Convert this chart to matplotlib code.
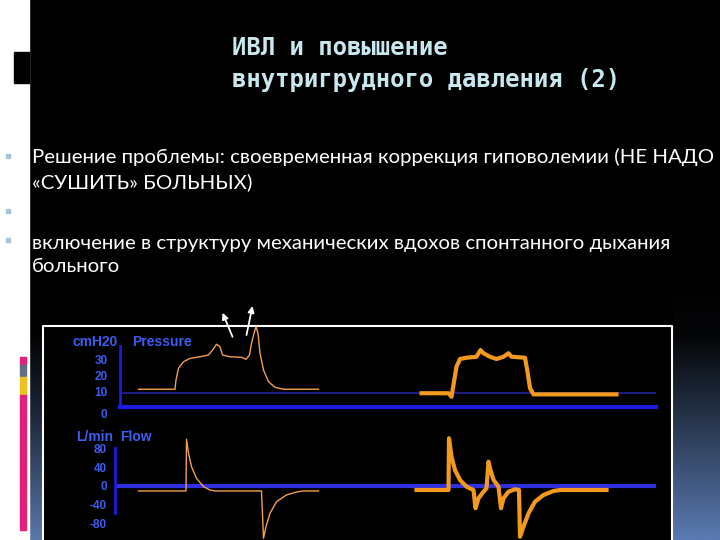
import matplotlib
matplotlib.use('Agg')
import matplotlib.pyplot as plt
import numpy as np
from matplotlib.patches import Rectangle
from matplotlib.transforms import ScaledTranslation

# slide texts
title_lines = ['ИВЛ и повышение', 'внутригрудного давления (2)']
body_lines = ['Решение проблемы: своевременная коррекция гиповолемии (НЕ НАДО',
              '«СУШИТЬ» БОЛЬНЫХ)',
              'включение в структуру механических вдохов спонтанного дыхания',
              'больного']

# pressure waveform, time in s, pressure in cmH2O
p_ticks = [0, 10, 20, 30]
peep_level = 8.8
p1_t = [0.47, 1.20, 1.22, 1.27, 1.37, 1.50, 1.70, 1.87, 1.95, 2.03, 2.10, 2.15,
        2.30, 2.53, 2.62, 2.69, 2.73, 2.78, 2.82, 2.86, 2.90, 2.97, 3.07, 3.20,
        3.37, 4.07]
p1_v = [11.1, 11.1, 16.9, 24.2, 28.3, 30.4, 31.4, 32.5, 35.6, 39.2, 37.7, 32.5,
        31.4, 31.1, 29.8, 32.5, 39.8, 46.1, 50.2, 46.1, 33.6, 23.1, 15.8, 12.3,
        11.1, 11.1]
p2_t = [6.13, 6.67, 6.73, 6.78, 6.83, 6.90, 7.03, 7.23, 7.31, 7.37, 7.50, 7.63,
        7.77, 7.87, 7.93, 8.20, 8.25, 8.30, 8.37, 10.03]
p2_v = [8.6, 8.6, 6.4, 15.8, 25.2, 30.0, 30.8, 31.4, 35.6, 33.6, 31.4, 30.0,
        31.4, 33.6, 31.4, 30.8, 22.1, 11.8, 7.9, 7.9]

# flow waveform, L/min
f_ticks = [80, 40, 0, -40, -80]
f1_t = [0.47, 1.42, 1.43, 1.47, 1.53, 1.63, 1.77, 1.90, 2.00, 2.93, 2.97, 3.02,
        3.10, 3.23, 3.43, 3.63, 3.77, 4.07]
f1_v = [-10.6, -10.6, 99.4, 69.6, 41.1, 16.4, -1.5, -8.5, -10.6, -10.6, -111.3,
        -86.6, -58.1, -33.4, -19.1, -12.8, -10.6, -10.6]
f2_t = [6.03, 6.67, 6.68, 6.73, 6.80, 6.90, 7.03, 7.17, 7.21, 7.27, 7.37, 7.43,
        7.47, 7.50, 7.57, 7.67, 7.72, 7.77, 7.87, 8.00, 8.08, 8.10, 8.17, 8.27,
        8.40, 8.57, 8.77, 8.90, 9.83]
f2_v = [-8.5, -8.5, 101.5, 62.3, 34.0, 12.8, -1.5, -8.5, -47.4, -26.2, -12.1,
        -4.9, 51.7, 37.7, 12.8, -1.5, -47.4, -26.2, -12.1, -7.0, -8.5, -107.9,
        -86.6, -58.1, -33.4, -19.1, -10.6, -8.5, -8.5]

# arrows on pressure chart (tail, tip)
arrows = [((2.35, 43.9), (2.15, 58.9)), ((2.63, 45.0), (2.75, 63.1))]

W, H = 720, 540
fig = plt.figure(figsize=(7.2, 5.4), dpi=100, facecolor='black')

# background / decoration layer in pixel units
bg = fig.add_axes([0, 0, 1, 1])
bg.set_xlim(0, W)
bg.set_ylim(H, 0)
bg.axis('off')
bg.add_patch(Rectangle((0, 0), 29, H, color='white'))
bg.add_patch(Rectangle((14, 52), 15, 31, color='black'))
bg.add_patch(Rectangle((20, 357), 6, 8, color='#e0207a'))
bg.add_patch(Rectangle((20, 365), 6, 11, color='#607080'))
bg.add_patch(Rectangle((20, 377), 6, 18, color='#f0c020'))
bg.add_patch(Rectangle((20, 395), 6, 135, color='#e0207a'))

grad = np.linspace(0, 1, 256).reshape(-1, 1)
cmap_r = matplotlib.colors.LinearSegmentedColormap.from_list(
    'r', [(0, '#000000'), (0.25, '#050608'), (0.55, '#26344a'), (1, '#5a7ab2')])
bg.imshow(grad, extent=(673, 720, 540, 270), cmap=cmap_r, aspect='auto', origin='upper')
cmap_l = matplotlib.colors.LinearSegmentedColormap.from_list(
    'l', [(0, '#000000'), (0.4, '#1c2638'), (1, '#5a78aa')])
bg.imshow(grad, extent=(29, 42, 540, 330), cmap=cmap_l, aspect='auto', origin='upper')

# chart panel frame
bg.plot([43, 43, 672, 672], [540, 326, 326, 540], color='white', lw=1.5)

# title
for i, line in enumerate(title_lines):
    bg.text(232, 48 + 32 * i, line, color='#c8e8f0', fontsize=17.2,
            family='DejaVu Sans Mono', weight='bold', ha='left', va='center')

# bullets
for y in [156, 211, 240]:
    bg.add_patch(Rectangle((6, y - 2), 4, 4, color='#a8c4dc'))

# body text
for y, line in zip([157, 182, 243, 267], body_lines):
    bg.text(32, y, line, color='white', fontsize=14.7, family='Lato',
            ha='left', va='center')

blue = '#1c1ce0'
lab_blue = '#3c5cf0'
orange = '#f39a1e'

# pressure axes: x px 120..656, y px 320..420 (0 at 407, 1.6 px per cmH2O)
axp = fig.add_axes([120 / W, 1 - 420 / H, 536 / W, 100 / H])
axp.set_facecolor('none')
axp.set_xlim(0.1, 10.82)
axp.set_ylim(-8.125, 54.375)
axp.plot(p1_t, p1_v, color='#f0a050', lw=1.0, clip_on=False)
axp.plot(p2_t, p2_v, color=orange, lw=3.0, clip_on=False, solid_joinstyle='round')
axp.axhline(peep_level, color='#22229a', lw=1.2, zorder=0)
for s in ['top', 'right']:
    axp.spines[s].set_visible(False)
axp.spines['left'].set_color(blue)
axp.spines['left'].set_linewidth(2)
axp.spines['left'].set_bounds(0, 38)
axp.spines['bottom'].set_color(blue)
axp.spines['bottom'].set_linewidth(3)
axp.spines['bottom'].set_position(('data', 0))
axp.set_xticks([])
axp.set_yticks(p_ticks)
axp.set_yticklabels([str(v) for v in p_ticks], color=lab_blue, fontsize=8.5,
                    family='Liberation Sans', weight='bold')
axp.tick_params(axis='y', length=0, pad=9)
zero_lbl = axp.get_yticklabels()[0]
zero_lbl.set_transform(zero_lbl.get_transform() + ScaledTranslation(0, -6 / 100, fig.dpi_scale_trans))
for tail, tip in arrows:
    axp.annotate('', xy=tip, xytext=tail, annotation_clip=False,
                 arrowprops=dict(arrowstyle='-|>', color='white', lw=1.3,
                                 mutation_scale=9, shrinkA=0, shrinkB=0))
axp.text(0.06, 40.6, 'cmH20', color=lab_blue, fontsize=10, weight='bold',
         family='Liberation Sans', ha='right', va='center')
axp.text(0.35, 40.6, 'Pressure', color=lab_blue, fontsize=10, weight='bold',
         family='Liberation Sans', ha='left', va='center')

# flow axes: x px 115..656, y px 430..540 (0 at 486, 0.47 px per L/min)
axf = fig.add_axes([115 / W, 0, 541 / W, 110 / H])
axf.set_facecolor('none')
axf.set_xlim(0, 10.82)
axf.set_ylim(-114.9, 119.1)
axf.plot(f1_t, f1_v, color='#f0a050', lw=1.0, clip_on=False)
axf.plot(f2_t, f2_v, color=orange, lw=3.0, clip_on=False, solid_joinstyle='round')
axf.axhline(0, color='#3030e0', lw=3, zorder=0)
for s in ['top', 'right', 'bottom']:
    axf.spines[s].set_visible(False)
axf.spines['left'].set_color(blue)
axf.spines['left'].set_linewidth(2)
axf.spines['left'].set_bounds(-57, 81)
axf.set_xticks([])
axf.set_yticks(f_ticks)
axf.set_yticklabels([str(v) for v in f_ticks], color=lab_blue, fontsize=8.5,
                    family='Liberation Sans', weight='bold')
axf.tick_params(axis='y', length=0, pad=6)
axf.text(-0.04, 104, 'L/min', color=lab_blue, fontsize=10, weight='bold',
         family='Liberation Sans', ha='right', va='center')
axf.text(0.1, 104, 'Flow', color=lab_blue, fontsize=10, weight='bold',
         family='Liberation Sans', ha='left', va='center')

fig.savefig('out.png', dpi=100, facecolor='black')
